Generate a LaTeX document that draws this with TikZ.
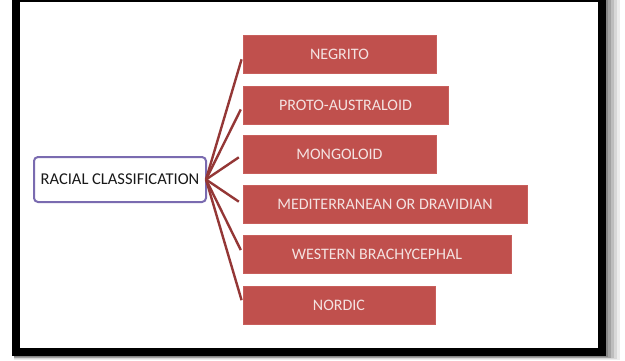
\documentclass[tikz,border=0pt]{standalone}
\usepackage{fontspec}
\setmainfont{Carlito}
\definecolor{boxred}{HTML}{C0504D}
\definecolor{boxredline}{HTML}{C85F5C}
\definecolor{boxtext}{HTML}{F4E2E1}
\definecolor{linkred}{HTML}{943736}
\definecolor{rootline}{HTML}{7A6BB0}
\tikzset{
  catbox/.style={fill=boxred, draw=boxredline, line width=0.8pt, text=boxtext,
    inner sep=0pt, outer sep=0pt, minimum height=38pt,
    font=\fontsize{16}{19}\selectfont},
  rootbox/.style={fill=white, draw=rootline, line width=2pt, rounded corners=4pt,
    inner sep=0pt, outer sep=0pt, minimum width=172pt, minimum height=45pt,
    text=black!90, font=\fontsize{16.5}{20}\selectfont},
  link/.style={draw=linkred, line width=2.4pt, shorten >=5pt}
}
\begin{document}
\begin{tikzpicture}[x=1pt,y=-1pt]
\useasboundingbox (0,0) rectangle (625,360);
% shadow of frame
\foreach \o/\a in {14/0.07,11/0.09,8/0.12,5/0.15,2/0.18}{
  \fill[black,opacity=\a] (14,-6) rectangle (606+\o,356+\o*0.3);
}
% frame
\fill[black] (12,-6) rectangle (606,356);
\fill[white] (20,2) rectangle (598,348);
% nodes
\node[rootbox] (root) at (120,179.5) {RACIAL CLASSIFICATION};
\node[catbox, minimum width=193pt] (n1) at (339.5,54.5) {NEGRITO};
\node[catbox, minimum width=205pt] (n2) at (345.5,105) {PROTO-AUSTRALOID};
\node[catbox, minimum width=193pt] (n3) at (339.5,154.5) {MONGOLOID};
\node[catbox, minimum width=284pt] (n4) at (385,204.5) {MEDITERRANEAN OR DRAVIDIAN};
\node[catbox, minimum width=268pt] (n5) at (377,254.5) {WESTERN BRACHYCEPHAL};
\node[catbox, minimum width=192pt] (n6) at (339,305) {NORDIC};
% connectors
\foreach \n in {n1,n2,n3,n4,n5,n6}{
  \draw[link] (root.east) -- (\n.west);
}
\end{tikzpicture}
\end{document}
